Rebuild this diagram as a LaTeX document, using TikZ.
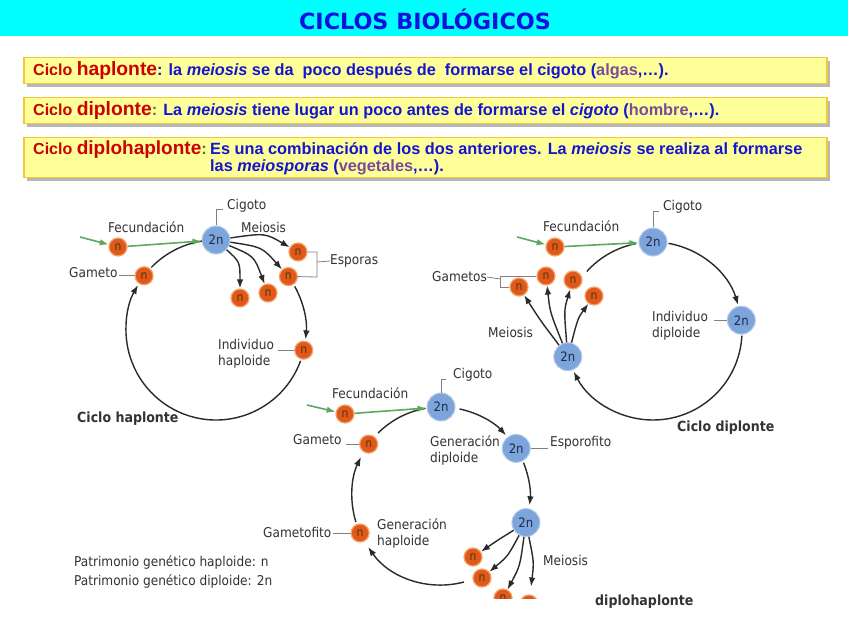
\documentclass[tikz,border=0pt]{standalone}
\usepackage{fontspec}
\setmainfont{Liberation Sans}
\newfontfamily\labf{DejaVu Sans Condensed}
\newfontfamily\titf{DejaVu Sans}
\usetikzlibrary{arrows.meta,shadows}
\definecolor{cyanbg}{HTML}{00FFFF}
\definecolor{titblue}{HTML}{1010E0}
\definecolor{boxfill}{HTML}{FFFF99}
\definecolor{boxedge}{HTML}{F2C83A}
\definecolor{redt}{HTML}{CC0000}
\definecolor{bluet}{HTML}{1414D2}
\definecolor{purt}{HTML}{7A4A9C}
\definecolor{greent}{HTML}{2E8B2E}
\definecolor{nfill}{HTML}{E0581C}
\definecolor{nedge}{HTML}{F4A466}
\definecolor{ntext}{HTML}{4A3C00}
\definecolor{dfill}{HTML}{7DA4DB}
\definecolor{dedge}{HTML}{B8CDEB}
\definecolor{dtext}{HTML}{1C2C4C}
\definecolor{labc}{HTML}{333333}
\definecolor{arrc}{HTML}{2A2A2A}
\definecolor{grn}{HTML}{5EA85E}
\definecolor{leadc}{HTML}{808080}
\begin{document}
\begin{tikzpicture}[x=1pt,y=-1pt,
  lab/.style={font=\labf\fontsize{13.5}{16}\selectfont, text=labc, inner sep=0pt, anchor=west, align=left},
  boldlab/.style={font=\labf\bfseries\fontsize{14}{16}\selectfont, text=labc, inner sep=0pt, anchor=west},
  nn/.style={circle, minimum size=18pt, inner sep=0pt, fill=nfill, draw=nedge, line width=1.2pt, text=ntext, font=\labf\fontsize{12}{12}\selectfont},
  dd/.style={circle, minimum size=28pt, inner sep=0pt, fill=dfill, draw=dedge, line width=1pt, text=dtext, font=\labf\fontsize{13}{13}\selectfont},
  arr/.style={draw=arrc, line width=1.4pt, -{Latex[length=9pt,width=6.5pt]}},
  ring/.style={draw=arrc, line width=1.4pt},
  garr/.style={draw=grn, line width=1.6pt, -{Latex[length=9pt,width=6.5pt]}},
  lead/.style={draw=leadc, line width=0.8pt},
  infobox/.style={draw=boxedge, fill=boxfill, line width=1.5pt, anchor=north west, minimum width=803pt, inner sep=0pt,
     drop shadow={shadow xshift=3pt, shadow yshift=-3pt, fill=black!35, opacity=0.8}},
  boxtext/.style={anchor=base west, inner sep=0pt, font=\bfseries\fontsize{16.3}{18}\selectfont, text=bluet}
]
\useasboundingbox (0,0) rectangle (848,636);
\fill[white] (0,0) rectangle (848,636);
% header
\fill[cyanbg] (0,0) rectangle (848,36);
\node[font=\titf\bfseries\fontsize{22.3}{22}\selectfont, text=titblue, inner sep=0pt] (title) at (425,19) {CICLOS BIOLÓGICOS};
% boxes
\node[infobox, minimum height=26pt] (b1) at (23,57) {};
\node[infobox, minimum height=26pt] (b2) at (23,97) {};
\node[infobox, minimum height=40pt] (b3) at (23,137) {};
\node[boxtext] (t1) at (33,76) {\textcolor{redt}{\fontsize{16}{16}\selectfont Ciclo {\fontsize{19.3}{20}\selectfont haplonte}}: la \textit{meiosis} se da\ \ poco después de\ \ formarse el cigoto (\textcolor{purt}{algas},…).};
\node[boxtext] (t2) at (33,116) {\textcolor{redt}{\fontsize{16}{16}\selectfont Ciclo {\fontsize{19.3}{20}\selectfont diplonte}}\textcolor{greent}{:} La \textit{meiosis} tiene lugar un poco antes de formarse el \textit{cigoto} (\textcolor{purt}{hombre},…).};
\node[boxtext] (t3a) at (33,155) {\textcolor{redt}{\fontsize{16}{16}\selectfont Ciclo {\fontsize{19}{20}\selectfont diplohaplonte}}\textcolor{greent}{:}};
\node[boxtext] (t3b) at (210,155) {Es una combinación de los dos anteriores. La \textit{meiosis} se realiza al formarse};
\node[boxtext] (t3c) at (210,172) {las \textit{meiosporas} (\textcolor{purt}{vegetales},…).};

% ===== Ciclo haplonte =====
\coordinate (C1) at (216,330);
\node[dd] (h-cig) at (216,240) {2n};
\node[nn] (h-ind) at (303.7,350.2) {n};
\node[nn] (h-gam) at (144.1,275.8) {n};
\node[nn] (h-fec) at (118,247) {n};
\node[nn] (h-e1) at (298,252) {n};
\node[nn] (h-e2) at (288.4,276.6) {n};
\node[nn] (h-s1) at (240,298) {n};
\node[nn] (h-s2) at (268,293) {n};
\draw[arr] (C1) ++(331:90) arc[start angle=331, end angle=366, radius=90];
\draw[arr] (C1) ++(20:90) arc[start angle=20, end angle=210, radius=90];
\draw[ring] (C1) ++(224:90) arc[start angle=224, end angle=261, radius=90];
\coordinate (h-gin) at (80,237);
\draw[garr] (h-gin) -- (h-fec);
\draw[garr] (h-fec) -- (h-cig);
\draw[arr] (h-cig) .. controls (265,233) .. (h-e1);
\draw[arr] (h-cig) .. controls (262,247) .. (h-e2);
\draw[arr] (h-cig) .. controls (240,262) .. (h-s1);
\draw[arr] (h-cig) .. controls (254,256) .. (h-s2);
\node[lab] (h-fecl) at (108,227) {Fecundación};
\node[lab] (h-cigl) at (227,206) {Cigoto};
\draw[lead] (h-cig.north) -- ++(0,-16) -- ++(7,0);
\node[lab] (h-meil) at (241,227) {Meiosis};
\node[lab] (h-gaml) at (69,273) {Gameto};
\draw[lead] (h-gam.west) -- ++(-16,0);
\coordinate (h-bra) at (317,252);
\coordinate (h-brb) at (317,277);
\coordinate (h-brm) at (317,262);
\node[lab] (h-espl) at (330,261) {Esporas};
\draw[lead] (h-e1.east) -- (h-bra) -- (h-brb) -- (h-e2.east);
\draw[lead] (h-brm) -- (h-espl.west);
\node[lab] (h-indl) at (218,353.5) {Individuo\\haploide};
\draw[lead] (h-ind.west) -- ++(-16,0);
\node[boldlab] (h-tit) at (77,419) {Ciclo haplonte};

% ===== Ciclo diplonte =====
\coordinate (C2) at (653,331);
\node[dd] (d-cig) at (653,242) {2n};
\node[dd] (d-ind) at (741.3,320.2) {2n};
\node[dd] (d-mei) at (567.8,356.7) {2n};
\node[nn] (d-fec) at (555,247) {n};
\node[nn] (d-g1) at (519,287) {n};
\node[nn] (d-g2) at (546,276) {n};
\node[nn] (d-g3) at (573,280) {n};
\node[nn] (d-g4) at (594,296) {n};
\draw[arr] (C2) ++(280:89) arc[start angle=280, end angle=343, radius=89];
\draw[arr] (C2) ++(3:89) arc[start angle=3, end angle=153, radius=89];
\draw[ring] (C2) ++(222:89) arc[start angle=222, end angle=259, radius=89];
\coordinate (d-gin) at (517,237);
\draw[garr] (d-gin) -- (d-fec);
\draw[garr] (d-fec) -- (d-cig);
\draw[arr] (d-mei) .. controls (540,320) .. (d-g1);
\draw[arr] (d-mei) .. controls (550,312) .. (d-g2);
\draw[arr] (d-mei) .. controls (564,310) .. (d-g3);
\draw[arr] (d-mei) .. controls (578,318) .. (d-g4);
\node[lab] (d-cigl) at (663,207) {Cigoto};
\draw[lead] (d-cig.north) -- ++(0,-16) -- ++(6,0);
\node[lab] (d-fecl) at (543,226) {Fecundación};
\node[lab] (d-gaml) at (432,277) {Gametos};
\coordinate (d-bra) at (500,276);
\coordinate (d-brb) at (500,287);
\coordinate (d-brm) at (500,279);
\draw[lead] (d-g2.west) -- (d-bra) -- (d-brb) -- (d-g1.west);
\draw[lead] (d-gaml.east) -- (d-brm);
\node[lab] (d-meil) at (488,332) {Meiosis};
\node[lab] (d-indl) at (652,325.5) {Individuo\\diploide};
\draw[lead] (d-ind.west) -- ++(-13,0);
\node[boldlab] (d-tit) at (677,428) {Ciclo diplonte};

% ===== Ciclo diplohaplonte =====
\coordinate (C3) at (441,496);
\node[dd] (x-cig) at (441,407) {2n};
\node[dd] (x-esp) at (516.2,448.4) {2n};
\node[dd] (x-mei) at (525.9,522.6) {2n};
\node[nn] (x-n1) at (473,557) {n};
\node[nn] (x-n2) at (482,578) {n};
\node[nn] (x-gmf) at (360.1,533) {n};
\node[nn] (x-gam) at (368.7,444.1) {n};
\node[nn] (x-fec) at (345,414) {n};
\begin{scope}
\clip (0,0) rectangle (848,598);
\node[nn] (x-n3) at (503,598) {n};
\node[nn] (x-n4) at (529,604) {n};
\end{scope}
\draw[arr] (C3) ++(282:89) arc[start angle=282, end angle=317, radius=89];
\draw[arr] (C3) ++(338:89) arc[start angle=338, end angle=366, radius=89];
\draw[arr] (C3) ++(75:89) arc[start angle=75, end angle=145, radius=89];
\draw[arr] (C3) ++(163:89) arc[start angle=163, end angle=206, radius=89];
\draw[ring] (C3) ++(225:89) arc[start angle=225, end angle=260, radius=89];
\coordinate (x-gin) at (307,405);
\draw[garr] (x-gin) -- (x-fec);
\draw[garr] (x-fec) -- (x-cig);
\draw[arr] (x-mei) .. controls (498,540) .. (x-n1);
\draw[arr] (x-mei) .. controls (508,556) .. (x-n2);
\draw[arr] (x-mei) .. controls (520,566) .. (x-n3);
\draw[arr, shorten >=8pt] (x-mei) .. controls (534,562) .. (x-n4);
\node[lab] (x-cigl) at (453,375) {Cigoto};
\draw[lead] (x-cig.north) -- ++(0,-13) -- ++(5,0);
\node[lab] (x-fecl) at (332,393) {Fecundación};
\node[lab] (x-gaml) at (293,440) {Gameto};
\draw[lead] (x-gam.west) -- ++(-13,0);
\node[lab] (x-gdl) at (430,451) {Generación\\diploide};
\node[lab] (x-espl) at (550,443) {Esporofito};
\draw[lead] (x-esp.east) -- ++(17,0);
\node[lab] (x-gmfl) at (263,532) {Gametofito};
\draw[lead] (x-gmf.west) -- ++(-18,0);
\node[lab] (x-ghl) at (377,534) {Generación\\haploide};
\node[lab] (x-meil) at (543,560) {Meiosis};
\node[boldlab] (x-tit) at (595,602) {diplohaplonte};
% legend
\node[lab] (leg1) at (74,563) {Patrimonio genético haploide: n};
\node[lab] (leg2) at (74,582) {Patrimonio genético diploide: 2n};
\end{tikzpicture}
\end{document}
